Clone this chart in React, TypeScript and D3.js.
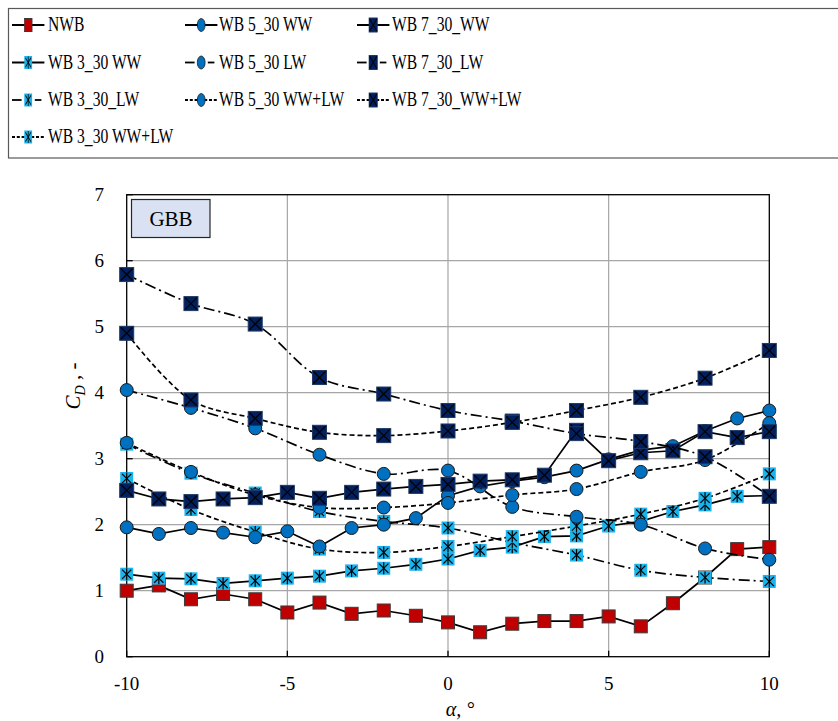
import React from 'react';
import * as d3 from 'd3';

// ---------- data ----------
const alphaAll = [-10, -9, -8, -7, -6, -5, -4, -3, -2, -1, 0, 1, 2, 3, 4, 5, 6, 7, 8, 9, 10];
const alphaEven = [-10, -8, -6, -4, -2, 0, 2, 4, 6, 8, 10];

const nwb = [1.0, 1.08, 0.87, 0.95, 0.87, 0.67, 0.82, 0.65, 0.7, 0.62, 0.52, 0.37, 0.5, 0.54, 0.54, 0.61, 0.46, 0.81, 1.2, 1.63, 1.66];

const wb3WW = [1.25, 1.19, 1.18, 1.11, 1.15, 1.19, 1.22, 1.3, 1.34, 1.4, 1.48, 1.61, 1.66, 1.82, 1.83, 1.98, 2.05, 2.2, 2.3, 2.43, 2.44];
const wb3LW = [3.22, 2.78, 2.48, 2.2, 2.05, 1.95, 1.73, 1.54, 1.31, 1.2, 1.14];
const wb3WWLW = [2.7, 2.23, 1.89, 1.63, 1.58, 1.67, 1.82, 1.98, 2.16, 2.4, 2.77];

const wb5WW = [1.96, 1.86, 1.95, 1.88, 1.81, 1.9, 1.67, 1.95, 2.0, 2.1, 2.44, 2.58, 2.66, 2.72, 2.82, 2.99, 3.13, 3.19, 3.42, 3.61, 3.73];
const wb5LW = [4.04, 3.77, 3.46, 3.06, 2.77, 2.82, 2.27, 2.12, 2.0, 1.64, 1.47];
const wb5WWLW = [3.24, 2.8, 2.45, 2.26, 2.26, 2.33, 2.45, 2.54, 2.8, 2.98, 3.54];

const wb7WW = [2.52, 2.39, 2.35, 2.39, 2.41, 2.49, 2.4, 2.49, 2.54, 2.58, 2.61, 2.66, 2.68, 2.75, 3.43, 2.97, 3.09, 3.12, 3.41, 3.32, 3.41];
const wb7LW = [5.79, 5.35, 5.04, 4.23, 3.98, 3.73, 3.57, 3.38, 3.26, 3.03, 2.43];
const wb7WWLW = [4.9, 3.89, 3.61, 3.4, 3.35, 3.42, 3.55, 3.73, 3.93, 4.22, 4.64];

const xTicks = [-10, -5, 0, 5, 10];
const yTicks = [0, 1, 2, 3, 4, 5, 6, 7];

type MarkerKind = 'red' | 'star' | 'circle' | 'xsq';
type LineKind = 'solid' | 'dashdot' | 'dashed';

interface Series {
  name: string;
  xs: number[];
  ys: number[];
  marker: MarkerKind;
  line: LineKind;
}

// drawing order
const series: Series[] = [
  { name: 'NWB', xs: alphaAll, ys: nwb, marker: 'red', line: 'solid' },
  { name: 'WB 3_30 WW', xs: alphaAll, ys: wb3WW, marker: 'star', line: 'solid' },
  { name: 'WB 3_30_LW', xs: alphaEven, ys: wb3LW, marker: 'star', line: 'dashdot' },
  { name: 'WB 3_30 WW+LW', xs: alphaEven, ys: wb3WWLW, marker: 'star', line: 'dashed' },
  { name: 'WB 5_30 WW', xs: alphaAll, ys: wb5WW, marker: 'circle', line: 'solid' },
  { name: 'WB 5_30 LW', xs: alphaEven, ys: wb5LW, marker: 'circle', line: 'dashdot' },
  { name: 'WB 5_30 WW+LW', xs: alphaEven, ys: wb5WWLW, marker: 'circle', line: 'dashed' },
  { name: 'WB 7_30_WW', xs: alphaAll, ys: wb7WW, marker: 'xsq', line: 'solid' },
  { name: 'WB 7_30_LW', xs: alphaEven, ys: wb7LW, marker: 'xsq', line: 'dashdot' },
  { name: 'WB 7_30_WW+LW', xs: alphaEven, ys: wb7WWLW, marker: 'xsq', line: 'dashed' },
];

// legend layout: columns of series indices
const legendColumns = [[0, 1, 2, 3], [4, 5, 6], [7, 8, 9]];

const W = 838;
const H = 721;
const PL = 126.7, PR = 769.3, PT = 194.7, PB = 656.7;

const FONT = '"Liberation Serif", "Times New Roman", serif';

const C_RED = '#C00000';
const C_LIGHT = '#19B4EE';
const C_BLUE = '#0070C0';
const C_NAVY = '#002060';

function dashFor(l: LineKind): string | undefined {
  if (l === 'dashdot') return '11,4,2,4';
  if (l === 'dashed') return '5,3';
  return undefined;
}

function Marker({ kind, x, y }: { kind: MarkerKind; x: number; y: number }) {
  if (kind === 'red') {
    const s = 13;
    return <rect x={x - s / 2} y={y - s / 2} width={s} height={s} fill={C_RED} stroke="#3a3a3a" strokeWidth={1} />;
  }
  if (kind === 'circle') {
    return <circle cx={x} cy={y} r={6.5} fill={C_BLUE} stroke="#1a1a1a" strokeWidth={1} />;
  }
  if (kind === 'star') {
    const s = 13;
    const h = s / 2;
    const a = 4.6;
    return (
      <g>
        <rect x={x - h} y={y - h} width={s} height={s} fill={C_LIGHT} />
        <line x1={x - a} y1={y - a} x2={x + a} y2={y + a} stroke="#000" strokeWidth={1.2} />
        <line x1={x - a} y1={y + a} x2={x + a} y2={y - a} stroke="#000" strokeWidth={1.2} />
        <line x1={x} y1={y - h + 0.5} x2={x} y2={y + h - 0.5} stroke="#000" strokeWidth={1.2} />
      </g>
    );
  }
  const s = 14;
  const h = s / 2;
  return (
    <g>
      <rect x={x - h} y={y - h} width={s} height={s} fill={C_NAVY} stroke="#1F3864" strokeWidth={1} />
      <line x1={x - h + 1} y1={y - h + 1} x2={x + h - 1} y2={y + h - 1} stroke="#000" strokeWidth={1.3} />
      <line x1={x - h + 1} y1={y + h - 1} x2={x + h - 1} y2={y - h + 1} stroke="#000" strokeWidth={1.3} />
    </g>
  );
}

export default function App() {
  const x = d3.scaleLinear().domain([-10, 10]).range([PL, PR]);
  const y = d3.scaleLinear().domain([0, 7]).range([PB, PT]);

  const straight = d3.line<[number, number]>().x((d) => x(d[0])).y((d) => y(d[1]));
  const smooth = d3
    .line<[number, number]>()
    .x((d) => x(d[0]))
    .y((d) => y(d[1]))
    .curve(d3.curveCatmullRom.alpha(0.5));

  const colSampleX = [12, 185, 357];
  const colTextX = [48, 219, 392];
  const rowBase = [31, 68.5, 106, 143];
  const SX = 0.6;
  const TX = 0.71;

  return (
    <svg
      width={W}
      height={H}
      viewBox={`0 0 ${W} ${H}`}
      style={{ position: 'absolute', left: 0, top: 0, background: '#fff' }}
      fontFamily={FONT}
    >
      <rect x={0} y={0} width={W} height={H} fill="#fff" />

      {/* legend */}
      <rect x={8.5} y={8.5} width={845} height={149.5} fill="#fff" stroke="#595959" strokeWidth={1.2} />
      {legendColumns.map((col, ci) =>
        col.map((si, ri) => {
          const s = series[si];
          const cy = rowBase[ri] - 6;
          const markerX = 27;
          let lineEls: React.ReactNode;
          if (s.line === 'solid') {
            lineEls = <line x1={0} x2={54} y1={0} y2={0} stroke="#000" strokeWidth={1.8} />;
          } else if (s.line === 'dashdot') {
            lineEls = (
              <g>
                <line x1={0} x2={16} y1={0} y2={0} stroke="#000" strokeWidth={1.8} />
                <line x1={38} x2={49} y1={0} y2={0} stroke="#000" strokeWidth={1.8} />
              </g>
            );
          } else {
            lineEls = <line x1={0} x2={54} y1={0} y2={0} stroke="#000" strokeWidth={1.8} strokeDasharray="5,3" />;
          }
          return (
            <g key={s.name}>
              <g transform={`translate(${colSampleX[ci]},${cy}) scale(${SX},1)`}>
                {lineEls}
                <Marker kind={s.marker} x={markerX} y={0} />
              </g>
              <text
                transform={`translate(${colTextX[ci]},${rowBase[ri]}) scale(${TX},1)`}
                fontSize={22}
                fill="#000"
              >
                {s.name}
              </text>
            </g>
          );
        })
      )}

      {/* gridlines */}
      {yTicks
        .filter((t) => t > 0 && t < 7)
        .map((t) => (
          <line key={'gy' + t} x1={PL} x2={PR} y1={y(t)} y2={y(t)} stroke="#A6A6A6" strokeWidth={1.2} />
        ))}
      {xTicks
        .filter((t) => t > -10 && t < 10)
        .map((t) => (
          <line key={'gx' + t} x1={x(t)} x2={x(t)} y1={PT} y2={PB} stroke="#A6A6A6" strokeWidth={1.2} />
        ))}

      {/* frame */}
      <rect x={PL} y={PT} width={PR - PL} height={PB - PT} fill="none" stroke="#000" strokeWidth={1.3} />
      {xTicks.map((t) => (
        <line key={'tx' + t} x1={x(t)} x2={x(t)} y1={PB} y2={PB - 6} stroke="#000" strokeWidth={1.3} />
      ))}
      {yTicks.map((t) => (
        <line key={'ty' + t} x1={PL} x2={PL + 6} y1={y(t)} y2={y(t)} stroke="#000" strokeWidth={1.3} />
      ))}

      {/* tick labels */}
      {xTicks.map((t) => (
        <text key={'lx' + t} x={x(t)} y={690} textAnchor="middle" fontSize={19} fill="#000">
          {t}
        </text>
      ))}
      {yTicks.map((t) => (
        <text key={'ly' + t} x={104} y={y(t) + 6.5} textAnchor="end" fontSize={19} fill="#000">
          {t}
        </text>
      ))}

      {/* axis titles */}
      <text transform="translate(80,386) rotate(-90)" textAnchor="middle" fontSize={21} fill="#000">
        <tspan fontStyle="italic">C</tspan>
        <tspan fontStyle="italic" fontSize={14} dy={5}>D</tspan>
        <tspan dy={-5}> , -</tspan>
      </text>
      <text x={460} y={716} textAnchor="middle" fontSize={20} fill="#000" fontStyle="italic">
        α, °
      </text>

      {/* GBB label */}
      <rect x={131.5} y={199.5} width={78.5} height={38} fill="#D9E1F2" stroke="#262626" strokeWidth={1.2} />
      <text x={171} y={226} textAnchor="middle" fontSize={21} fill="#000">
        GBB
      </text>

      {/* series */}
      {series.map((s) => {
        const pts = s.xs.map((v, i) => [v, s.ys[i]] as [number, number]);
        const gen = s.line === 'solid' ? straight : smooth;
        return (
          <g key={s.name}>
            <path d={gen(pts) || ''} fill="none" stroke="#000" strokeWidth={1.7} strokeDasharray={dashFor(s.line)} />
            {pts.map((p, i) => (
              <Marker key={i} kind={s.marker} x={x(p[0])} y={y(p[1])} />
            ))}
          </g>
        );
      })}
    </svg>
  );
}
